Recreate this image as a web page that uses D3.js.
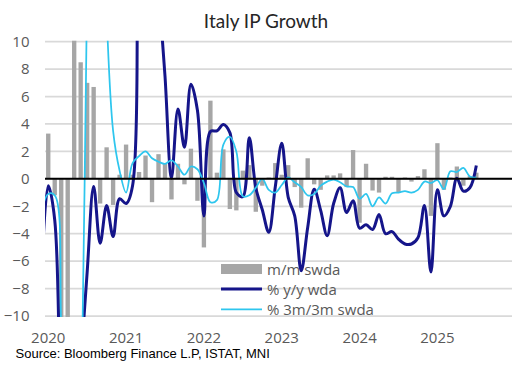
<!DOCTYPE html>
<html>
<head>
<meta charset="utf-8">
<script src="https://cdn.jsdelivr.net/npm/d3@7"></script>
<style>
  body { margin: 0; background: #fff; }
  svg { display: block; }
</style>
</head>
<body>
<script>
// monthly series, Dec 2019 .. Jul 2025 (first point only feeds the line start)
const mom = [null,
  3.3, -1.2, -28.0, -19.5, 42.0, 8.5, 7.0, 6.7, -1.8, 2.3, -1.9, 0.3,
  2.5, 0.3, 0.5, 1.7, -1.7, 1.8, 1.1, -1.5, 1.1, -0.4, 2.2, -1.6,
  -5.0, 5.7, 0.45, 2.15, -2.2, -2.3, 0.6, 1.0, -2.4, -0.5, 0.1, 1.15,
  0.3, 1.0, -0.6, -2.1, 1.5, -0.4, -0.8, 0.25, 0.25, 0.4, -0.6, 2.1,
  -3.2, 1.1, -0.85, -1.0, 0.15, 0.15, -1.0, 0.1, -0.2, 0.2, 0.7, -2.7,
  2.6, -0.8, 0.1, 0.9, -0.5, 0.2, 0.45];
const yoy = [-6.5,
  -0.5, -3.0, -20, -30, -20, -13.5, -6.8, -0.55, -4.7, -1.95, -4.2, -1.45,
  -1.8, -0.5, 37, 40, 21, 14, 7.5, 0.07, 5.1, 2.3, 6.9, 5.0,
  -2.7, 3.45, 3.5, 3.97, 3.37, -1.0, -1.3, 3.0, -0.65, -2.25, -3.9, -0.6,
  2.6, -1.35, -2.7, -6.7, -3.55, -0.75, -2.3, -4.15, -1.8, -0.65, -2.45, -1.6,
  -3.6, -3.35, -3.7, -2.6, -4.0, -3.85, -4.4, -4.75, -4.75, -4.3, -1.95, -6.8,
  -0.8, -2.7, -2.0, 0.05, -0.9, -0.65, 0.97];
const m3m3 = [-2.3,
  -1.1, -1.2, -11, -30, -35, -20, 14, 40, 30, 12, 3.5, 0.6,
  -1.0, 1.15, 1.66, 2.0, 1.5, 1.25, 1.1, 1.35, 0.9, 0.3, 0.9, 0.7,
  -0.3, -1.7, -1.55, 2.5, 3.07, 2.0, -1.27, -1.2, -0.65, 0.0, -0.8, -1.0,
  -0.45, 0.1, -0.25, -0.6, -1.2, -1.1, -0.5, -0.2, -0.05, -0.25, -0.55, -0.6,
  -1.45, -1.1, -2.0, -1.35, -1.8, -1.05, -1.0, -0.9, -1.0, -0.8, -0.2, -0.3,
  -0.1, -0.75, 0.55, 0.5, 0.8, 0.17, 0.1];
const yTicks = [-10, -8, -6, -4, -2, 0, 2, 4, 6, 8, 10];
const yearTicks = ["2020", "2021", "2022", "2023", "2024", "2025"];
const legendLabels = ["m/m swda", "% y/y wda", "% 3m/3m swda"];

const width = 532, height = 371;
const margin = {top: 41.7, right: 20, bottom: 55, left: 45};
const plotW = width - margin.left - margin.right;   // 467
const plotH = height - margin.top - margin.bottom;

const fmt = d3.timeFormat("%Y-%m");
const months = d3.timeMonth.range(new Date(2019, 11, 1), new Date(2026, 0, 1)).map(fmt);
const step = plotW / 72;

const x = d3.scaleBand()
  .domain(months)
  .range([margin.left - step, margin.left + plotW])
  .paddingInner(0.33)
  .paddingOuter(0.165);
const y = d3.scaleLinear().domain([-10, 10]).range([margin.top + plotH, margin.top]);

const svg = d3.select("body").append("svg")
  .attr("width", width)
  .attr("height", height);

svg.append("defs").append("clipPath").attr("id", "plot")
  .append("rect")
  .attr("x", margin.left).attr("y", margin.top - 1)
  .attr("width", plotW).attr("height", plotH + 2);

// gridlines
svg.append("g").selectAll("line")
  .data(yTicks)
  .join("line")
  .attr("x1", margin.left).attr("x2", margin.left + plotW)
  .attr("y1", d => y(d)).attr("y2", d => y(d))
  .attr("stroke", "#d9d9d9")
  .attr("stroke-width", 1.75);

const plot = svg.append("g").attr("clip-path", "url(#plot)");

const rows = months.slice(0, mom.length).map((k, i) => ({key: k, mom: mom[i], yoy: yoy[i], m3: m3m3[i]}));

plot.append("g").selectAll("rect")
  .data(rows.filter(d => d.mom != null))
  .join("rect")
  .attr("x", d => x(d.key))
  .attr("width", x.bandwidth())
  .attr("y", d => y(Math.max(0, d.mom)))
  .attr("height", d => Math.abs(y(d.mom) - y(0)))
  .attr("fill", "#a6a6a6");

// zero line
svg.append("line")
  .attr("x1", margin.left).attr("x2", margin.left + plotW)
  .attr("y1", y(0)).attr("y2", y(0))
  .attr("stroke", "#000")
  .attr("stroke-width", 2);

const lineFor = field => d3.line()
  .x(d => x(d.key) + x.bandwidth() / 2)
  .y(d => y(d[field]))
  .curve(d3.curveCatmullRom);

plot.append("path")
  .datum(rows)
  .attr("d", lineFor("yoy"))
  .attr("fill", "none")
  .attr("stroke", "#15158a")
  .attr("stroke-width", 3)
  .attr("stroke-linejoin", "round");

plot.append("path")
  .datum(rows)
  .attr("d", lineFor("m3"))
  .attr("fill", "none")
  .attr("stroke", "#2ec6ee")
  .attr("stroke-width", 1.75)
  .attr("stroke-linejoin", "round");

// axes
const yAxis = svg.append("g")
  .attr("transform", `translate(${margin.left},0)`)
  .call(d3.axisLeft(y).tickValues(yTicks).tickSize(0).tickPadding(15.5).tickFormat(d3.format("d")));
yAxis.select(".domain").remove();
yAxis.selectAll("text")
  .attr("fill", "#595959")
  .style("font-family", "'Open Sans', sans-serif")
  .style("font-size", "15px");

const xAxis = svg.append("g")
  .attr("transform", `translate(0,${margin.top + plotH})`)
  .call(d3.axisBottom(x)
    .tickValues(yearTicks.map(t => t + "-01"))
    .tickSize(0).tickPadding(16)
    .tickFormat(d => d.slice(0, 4)));
xAxis.select(".domain").remove();
xAxis.selectAll("text")
  .attr("fill", "#595959")
  .style("font-family", "'Open Sans', sans-serif")
  .style("font-size", "15px");

// title
svg.append("text")
  .attr("x", 266).attr("y", 28.3)
  .attr("text-anchor", "middle")
  .attr("fill", "#262626")
  .style("font-family", "Lato, sans-serif")
  .style("font-size", "19px")
  .text("Italy IP Growth");

// legend
const legend = svg.append("g").attr("transform", "translate(221,0)");
legend.append("rect")
  .attr("x", 0).attr("y", 264).attr("width", 41).attr("height", 10)
  .attr("fill", "#a6a6a6");
legend.append("line")
  .attr("x1", 0).attr("x2", 41).attr("y1", 289).attr("y2", 289)
  .attr("stroke", "#15158a").attr("stroke-width", 3);
legend.append("line")
  .attr("x1", 0).attr("x2", 41).attr("y1", 309.3).attr("y2", 309.3)
  .attr("stroke", "#2ec6ee").attr("stroke-width", 1.75);
legend.selectAll("text")
  .data(legendLabels)
  .join("text")
  .attr("x", 46)
  .attr("y", (d, i) => 274.5 + i * 20.3)
  .attr("fill", "#595959")
  .style("font-family", "'Open Sans', sans-serif")
  .style("font-size", "15px")
  .text(d => d);

// source
svg.append("text")
  .attr("x", 15.5).attr("y", 358)
  .attr("fill", "#000")
  .style("font-family", "'Liberation Sans', sans-serif")
  .style("font-size", "13px")
  .text("Source: Bloomberg Finance L.P, ISTAT, MNI");
</script>
</body>
</html>
